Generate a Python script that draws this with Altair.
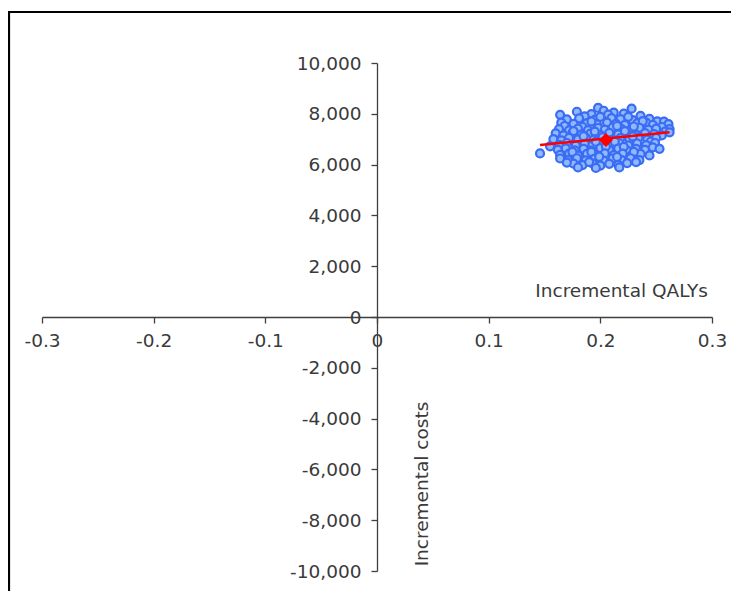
import altair as alt
import pandas as pd

# Simulated incremental QALYs / costs
qaly = [
    0.198, 0.228, 0.203, 0.212,
    0.179, 0.164, 0.192, 0.221, 0.236, 0.207, 0.186,
    0.170, 0.181, 0.195, 0.210, 0.218, 0.229, 0.244, 0.251, 0.257, 0.165, 0.200, 0.225, 0.241,
    0.168, 0.176, 0.188, 0.197, 0.206, 0.214, 0.222, 0.233, 0.247, 0.261, 0.255, 0.184, 0.192, 0.238,
    0.163, 0.172, 0.180, 0.189, 0.198, 0.204, 0.211, 0.219, 0.227, 0.235, 0.243, 0.250, 0.262, 0.258, 0.215, 0.230,
    0.160, 0.167, 0.175, 0.183, 0.191, 0.200, 0.208, 0.216, 0.224, 0.232, 0.240, 0.248, 0.255, 0.262, 0.195, 0.222, 0.176,
    0.158, 0.165, 0.172, 0.180, 0.187, 0.194, 0.202, 0.210, 0.218, 0.226, 0.234, 0.242, 0.250, 0.245, 0.229, 0.185,
    0.163, 0.170, 0.178, 0.186, 0.193, 0.201, 0.209, 0.217, 0.225, 0.233, 0.241, 0.249, 0.155, 0.146, 0.213, 0.196,
    0.162, 0.169, 0.177, 0.185, 0.192, 0.200, 0.208, 0.216, 0.224, 0.232, 0.240, 0.247, 0.253, 0.205, 0.221,
    0.164, 0.172, 0.180, 0.188, 0.196, 0.204, 0.212, 0.220, 0.228, 0.236, 0.244, 0.175, 0.192, 0.230,
    0.164, 0.171, 0.179, 0.187, 0.195, 0.203, 0.211, 0.219, 0.227, 0.235, 0.199, 0.215,
    0.176, 0.184, 0.193, 0.200, 0.208, 0.216, 0.224, 0.232, 0.180, 0.196, 0.217, 0.190, 0.170,
]
cost = [
    8230, 8200, 8120, 8050,
    8080, 7960, 7990, 8010, 7920, 7970, 7900,
    7780, 7820, 7760, 7830, 7790, 7750, 7800, 7700, 7690, 7650, 7880, 7880, 7650,
    7520, 7600, 7630, 7580, 7650, 7600, 7560, 7620, 7560, 7590, 7480, 7480, 7700, 7710,
    7400, 7350, 7420, 7360, 7440, 7380, 7460, 7400, 7350, 7450, 7380, 7420, 7400, 7300, 7520, 7500,
    7230, 7150, 7250, 7180, 7220, 7160, 7250, 7190, 7230, 7170, 7240, 7200, 7150, 7270, 7300, 7320, 7320,
    7000, 6950, 7050, 6990, 7060, 6980, 7080, 6960, 7040, 6990, 7060, 6980, 7050, 6900, 7110, 7120,
    6780, 6850, 6750, 6820, 6760, 6850, 6780, 6840, 6760, 6830, 6770, 6850, 6720, 6440, 6900, 6900,
    6580, 6640, 6560, 6620, 6550, 6650, 6580, 6630, 6550, 6620, 6580, 6680, 6620, 6710, 6700,
    6380, 6430, 6350, 6420, 6360, 6440, 6370, 6430, 6360, 6420, 6360, 6500, 6500, 6500,
    6240, 6180, 6250, 6170, 6230, 6160, 6240, 6180, 6250, 6180, 6310, 6300,
    6040, 5980, 6050, 5960, 6030, 5990, 6060, 6100, 5890, 5870, 5890, 6100, 6080,
]

# Trend line and mean point
line_qaly = [0.146, 0.262]
line_cost = [6770, 7270]
mean_qaly = [0.205]
mean_cost = [6970]

x_ticks = [-0.3, -0.2, -0.1, 0, 0.1, 0.2, 0.3]
y_ticks = [-10000, -8000, -6000, -4000, -2000, 0, 2000, 4000, 6000, 8000, 10000]

x_title = ["Incremental QALYs"]
y_title = ["Incremental costs"]

W, H = 670, 508
FONT = "DejaVu Sans"
FS = 18.5
TXT = "#3a3a3a"
LINE = "#3f3f3f"

x_axis = alt.Axis(
    orient="bottom", offset=-H / 2, values=x_ticks, title=None, grid=False,
    labelExpr="datum.value == 0 ? '0' : replace(format(datum.value, '.1f'), '\u2212', '-')",
    domainColor=LINE, domainWidth=1.3, tickColor=LINE, tickWidth=1.3, tickSize=6,
    labelFont=FONT, labelFontSize=FS, labelColor=TXT, labelPadding=8,
    labelOverlap=False, labelFlush=False,
)
y_axis = alt.Axis(
    orient="left", offset=-W / 2, values=y_ticks, title=None, grid=False,
    labelExpr="replace(format(datum.value, ','), '\u2212', '-')",
    domainColor=LINE, domainWidth=1.3, tickColor=LINE, tickWidth=1.3, tickSize=6,
    labelFont=FONT, labelFontSize=FS, labelColor=TXT, labelPadding=10,
    labelOverlap=False, labelFlush=False,
)
x_scale = alt.Scale(domain=[-0.3, 0.3], nice=False, zero=False)
y_scale = alt.Scale(domain=[-10000, 10000], nice=False, zero=False)

pts_df = pd.DataFrame({"qaly": qaly, "cost": cost})
line_df = pd.DataFrame({"qaly": line_qaly, "cost": line_cost})
mean_df = pd.DataFrame({"qaly": mean_qaly, "cost": mean_cost})

points = alt.Chart(pts_df).mark_point(
    shape="circle", filled=True, size=64, fill="#8FB8FF", stroke="#3A6CF4",
    strokeWidth=2.2, opacity=1,
).encode(
    x=alt.X("qaly:Q", scale=x_scale, axis=x_axis),
    y=alt.Y("cost:Q", scale=y_scale, axis=y_axis),
)

trend = alt.Chart(line_df).mark_line(color="#FF0000", strokeWidth=2.5).encode(
    x=alt.X("qaly:Q", scale=x_scale, axis=x_axis),
    y=alt.Y("cost:Q", scale=y_scale, axis=y_axis),
)

mean_pt = alt.Chart(mean_df).mark_point(
    shape="diamond", filled=True, size=196, color="#FF0000", opacity=1
).encode(
    x=alt.X("qaly:Q", scale=x_scale, axis=x_axis),
    y=alt.Y("cost:Q", scale=y_scale, axis=y_axis),
)

xlab = alt.Chart(pd.DataFrame({"t": x_title})).mark_text(
    font=FONT, fontSize=FS, color=TXT, align="right", baseline="alphabetic"
).encode(x=alt.value(666), y=alt.value(234), text="t:N")

ylab = alt.Chart(pd.DataFrame({"t": y_title})).mark_text(
    font=FONT, fontSize=FS, color=TXT, align="center", baseline="middle", angle=270
).encode(x=alt.value(380), y=alt.value(421), text="t:N")

frame = alt.Chart(pd.DataFrame({"t": ["frame"]})).mark_rect(
    fillOpacity=0, stroke="#000000", strokeWidth=2.2
).encode(
    x=alt.value(-33), x2=alt.value(760), y=alt.value(-51), y2=alt.value(700)
)

chart = alt.layer(frame, points, trend, mean_pt, xlab, ylab).properties(
    width=W, height=H,
    autosize=alt.AutoSizeParams(type="none"),
    padding={"left": 34, "top": 55, "right": 19, "bottom": 20},
    background="white",
).configure_view(strokeWidth=0)

chart.save("out.html", embed_options={"renderer": "svg", "actions": False})
